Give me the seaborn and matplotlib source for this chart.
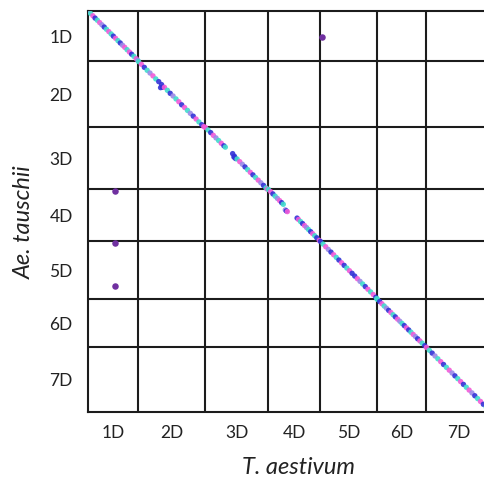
import numpy as np
import pandas as pd
import matplotlib
matplotlib.use('Agg')
import matplotlib.pyplot as plt
import seaborn as sns

# Chromosome names and lengths (Mb)
chroms = ['1D', '2D', '3D', '4D', '5D', '6D', '7D']
aes_len = [493, 660, 621, 512, 562, 483, 640]   # T. aestivum (x)
tau_len = [493, 650, 611, 512, 571, 473, 640]   # Ae. tauschii (y)

# Marker positions within each chromosome (Mb)
aes_pos = [
    [4, 25, 48, 70, 92, 115, 137, 160, 182, 205, 228, 250, 272, 295, 318, 340, 362, 385, 408, 430, 452, 475, 490],
    [5, 33, 62, 90, 118, 147, 175, 204, 222, 232, 240, 260, 289, 317, 345, 374, 402, 430, 459, 487, 515, 544, 572, 600, 628, 648],
    [4, 30, 56, 82, 108, 134, 160, 186, 200, 272, 285, 290, 300, 316, 342, 368, 394, 420, 446, 472, 498, 524, 550, 576, 600, 612],
    [4, 26, 48, 70, 92, 114, 134, 150, 170, 180, 190, 286, 300, 320, 340, 360, 380, 400, 420, 440, 460, 480, 505],
    [4, 30, 56, 82, 108, 134, 160, 186, 212, 238, 264, 290, 316, 342, 368, 394, 420, 446, 472, 498, 524, 550, 558],
    [4, 26, 48, 70, 92, 114, 136, 158, 180, 202, 224, 246, 268, 290, 312, 334, 356, 378, 400, 422, 444, 470],
    [4, 32, 60, 88, 116, 144, 172, 200, 228, 256, 284, 312, 340, 368, 396, 424, 452, 480, 508, 536, 564, 592, 620, 634],
]
tau_pos = [
    [4, 24, 47, 70, 91, 114, 136, 158, 180, 203, 226, 248, 269, 292, 315, 337, 358, 381, 404, 426, 447, 470, 486],
    [5, 32, 62, 91, 118, 146, 176, 203, 262, 232, 258, 259, 288, 318, 344, 373, 401, 431, 458, 486, 515, 543, 571, 600, 627, 646],
    [4, 29, 55, 82, 107, 133, 160, 185, 198, 262, 296, 288, 310, 315, 341, 367, 393, 420, 446, 471, 497, 523, 549, 575, 600, 611],
    [4, 26, 48, 70, 92, 114, 134, 150, 205, 215, 222, 286, 300, 320, 340, 360, 380, 400, 420, 440, 460, 480, 506],
    [4, 30, 56, 83, 109, 135, 161, 187, 214, 240, 266, 292, 318, 345, 371, 397, 423, 449, 475, 501, 527, 554, 567],
    [4, 25, 47, 69, 90, 112, 133, 155, 176, 198, 219, 241, 262, 284, 305, 327, 349, 370, 392, 413, 435, 460],
    [4, 32, 60, 88, 116, 144, 172, 200, 228, 256, 284, 312, 340, 368, 396, 424, 452, 480, 508, 536, 564, 592, 620, 636],
]
# marker group per point: b=blue, m=magenta, c=cyan, l=lavender
groups = [
    "lcmbcmlbcmcbmcblmcmbcml",
    "cmbclmcb" + "bbb" + "mcblcmbmclbmcbm",
    "mcbmlcmbc" + "bbbb" + "cmlbcmbcmlbcm",
    "cmbclmbc" + "lbm" + "bmcbmlcbmcbm",
    "bcmlbmcbmbcmbbmlcbmcmbc",
    "cbmclbmcbmlcbmbcmlbmcb",
    "mcblcmbcmlbcmbcmlbcmbcml",
]

# Off-diagonal markers: (x chrom, x pos, y chrom, y pos)
out_xchr = ['5D', '1D', '1D', '1D']
out_xpos = [19, 266, 266, 266]
out_ychr = ['1D', '4D', '5D', '5D']
out_ypos = [256, 19, 20, 443]

palette = {'b': '#3232d6', 'm': '#f25ad8', 'c': '#40dccc', 'l': '#9a8ae6'}

aes_off = np.concatenate([[0], np.cumsum(aes_len)])
tau_off = np.concatenate([[0], np.cumsum(tau_len)])

rows = []
for i in range(len(chroms)):
    for xp, yp, g in zip(aes_pos[i], tau_pos[i], groups[i]):
        rows.append({'x': aes_off[i] + xp, 'y': tau_off[i] + yp, 'group': g})
df = pd.DataFrame(rows)

out_x = [aes_off[chroms.index(c)] + p for c, p in zip(out_xchr, out_xpos)]
out_y = [tau_off[chroms.index(c)] + p for c, p in zip(out_ychr, out_ypos)]

sns.set_style('white')
plt.rcParams['font.family'] = ['Lato', 'DejaVu Sans']

fig = plt.figure(figsize=(4.84, 4.79), dpi=100)
scale = 0.1015  # px per Mb
ax = fig.add_axes([88 / 484, 67 / 479, aes_off[-1] * scale / 484, 401 / 479])

line_c = '#1c1c1c'
for b in aes_off[1:-1]:
    ax.axvline(b, color=line_c, lw=1.5, zorder=1)
for b in tau_off[1:-1]:
    ax.axhline(b, color=line_c, lw=1.5, zorder=1)

sns.scatterplot(data=df, x='x', y='y', hue='group', palette=palette, s=15,
                linewidth=0, alpha=0.9, legend=False, ax=ax, zorder=3)
sns.scatterplot(x=out_x, y=out_y, color='#7030a0', s=22, linewidth=0, ax=ax, zorder=3)

ax.set_xlim(0, aes_off[-1])
ax.set_ylim(tau_off[-1], 0)

for side in ['top', 'left', 'bottom', 'right']:
    ax.spines[side].set_color(line_c)
    ax.spines[side].set_linewidth(1.5)

ax.set_xticks(aes_off[:-1] + np.array(aes_len) / 2)
ax.set_xticklabels(chroms)
ax.set_yticks(tau_off[:-1] + np.array(tau_len) / 2)
ax.set_yticklabels(chroms)
ax.tick_params(axis='x', length=0, pad=9, labelsize=12.5, colors='#222222')
ax.tick_params(axis='y', length=0, pad=11, labelsize=12.5, colors='#222222')

ax.set_xlabel('T. aestivum', fontsize=17, style='italic', color='#222222')
ax.set_ylabel('Ae. tauschii', fontsize=17, style='italic', color='#222222')
ax.xaxis.set_label_coords(0.522, -0.112)
ax.yaxis.set_label_coords(-0.1315, 0.474)

fig.savefig('out.png', dpi=100)
